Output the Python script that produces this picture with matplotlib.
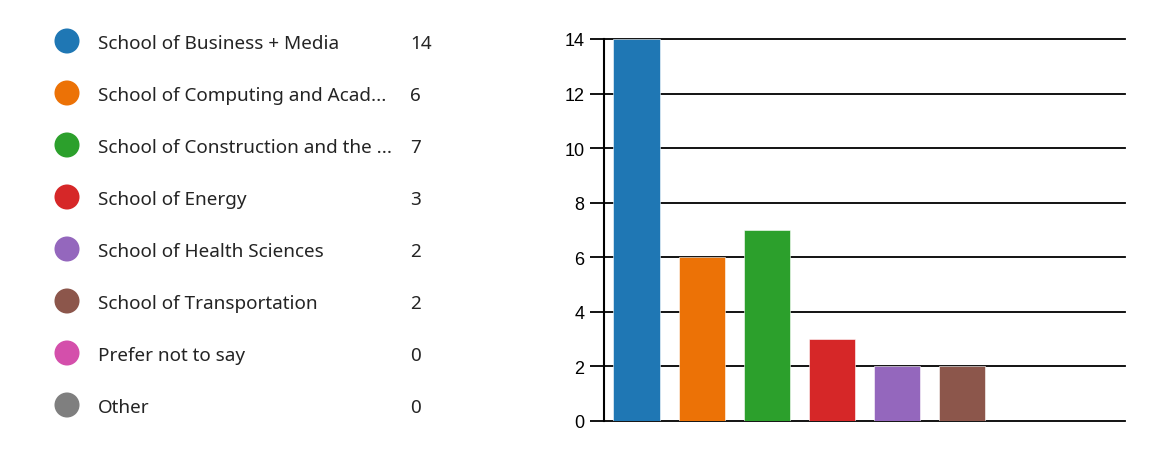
import matplotlib.pyplot as plt
import numpy as np

# chart data
categories = ["School of Business + Media", "School of Computing and Acad...",
              "School of Construction and the ...", "School of Energy",
              "School of Health Sciences", "School of Transportation",
              "Prefer not to say", "Other"]
counts = [14, 6, 7, 3, 2, 2, 0, 0]
colors = ["#1f77b4", "#ec7206", "#2ca02c", "#d62728",
          "#9467bd", "#8c564b", "#d44fab", "#7f7f7f"]
y_ticks = [0, 2, 4, 6, 8, 10, 12, 14]

W, H = 1166, 452
fig = plt.figure(figsize=(W / 100, H / 100), dpi=100)

# legend list on the left, in pixel coordinates
lax = fig.add_axes([0, 0, 1, 1])
lax.set_xlim(0, W)
lax.set_ylim(H, 0)
lax.axis("off")
rows = 42 + 52 * np.arange(len(categories))
lax.scatter(np.full(len(categories), 67), rows, s=25 ** 2 * 0.52, c=colors, marker="o", linewidths=0)
for i, (name, n) in enumerate(zip(categories, counts)):
    lax.text(98, rows[i], name, fontsize=13.6, family="Noto Sans", color="#242424", va="center_baseline")
    lax.text(410, rows[i], str(n), fontsize=13.6, family="Noto Sans", color="#242424", va="center_baseline")

# bar chart on the right
ax = fig.add_axes([604 / W, 30 / H, 521 / W, 382 / H])
x = np.arange(len(categories))
ax.bar(x, counts, width=0.71, color=colors, zorder=3, edgecolor="white", linewidth=0.4)
ax.set_xlim(-0.5, len(categories) - 0.5)
ax.set_ylim(0, 14)
ax.set_yticks(y_ticks)
ax.set_xticks([])
ax.tick_params(axis="y", length=10, width=1.3, pad=4, labelsize=13, colors="black")
for lbl in ax.get_yticklabels():
    lbl.set_family("Liberation Sans")
ax.yaxis.grid(True, color="black", linewidth=1.3, zorder=1)
for gl in ax.yaxis.get_gridlines():
    gl.set_clip_on(False)
for s in ["top", "right", "bottom"]:
    ax.spines[s].set_visible(False)
ax.spines["left"].set_linewidth(1.5)
ax.spines["left"].set_zorder(4)

fig.savefig("out.png", dpi=100)
